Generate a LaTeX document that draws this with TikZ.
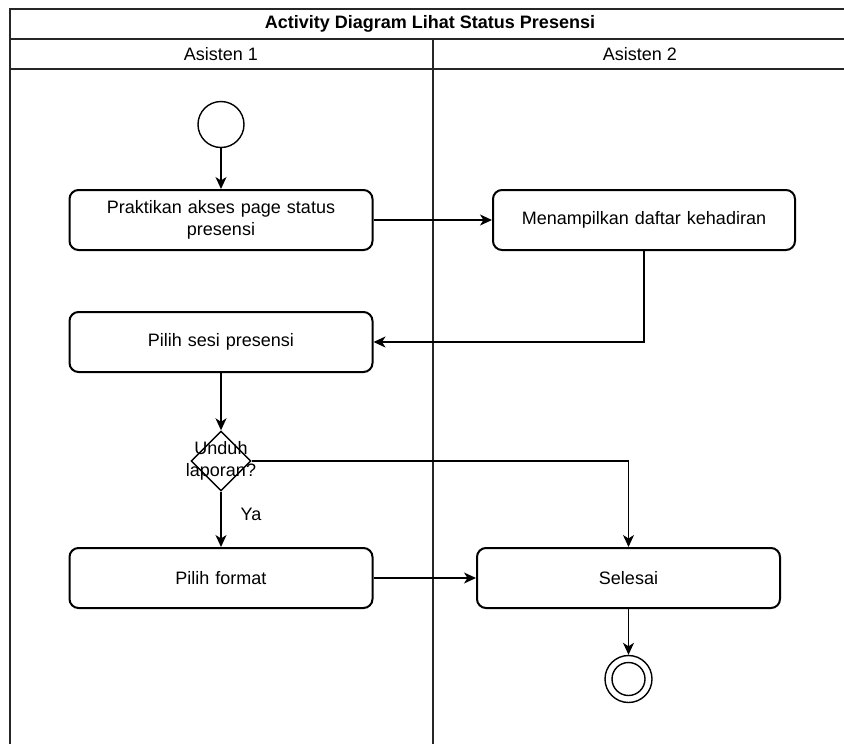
\documentclass[tikz,border=0pt]{standalone}
\usepackage{fontspec}
\setmainfont{Liberation Sans}
\usetikzlibrary{arrows.meta,shapes.geometric}
\begin{document}
\begin{tikzpicture}[x=1pt,y=-1pt,
  every node/.style={font=\fontsize{18}{22}\selectfont, align=center, inner sep=0pt},
  lane/.style={line width=2pt, draw=black!85},
  action/.style={draw, line width=2pt, rounded corners=9pt, minimum width=303pt, minimum height=60pt, text width=290pt},
  flow/.style={line width=1.5pt, -{Stealth[length=12pt,width=11pt,inset=3.5pt]}},
  startnode/.style={circle, draw, line width=1.4pt, minimum size=46pt},
  decision/.style={diamond, draw, line width=1.4pt, minimum width=60pt, minimum height=60pt, aspect=1}
]
\useasboundingbox (0,0) rectangle (844,744);
\fill[white] (0,0) rectangle (844,744);
\clip (0,0) rectangle (844,744);

% swimlane frame
\draw[lane] (9.5,9) rectangle (860,760);
\draw[lane] (9.5,39) -- (860,39);
\draw[lane] (9.5,69) -- (860,69);
\draw[lane] (432.5,39) -- (432.5,760);
\node[font=\fontsize{18}{22}\selectfont\bfseries] (title) at (430,24) {Activity Diagram Lihat Status Presensi};
\node (laneA) at (221,54) {Asisten 1};
\node (laneB) at (640,54) {Asisten 2};

% activity nodes
\node[startnode] (start) at (221,124.5) {};
\node[action] (akses) at (221,220) {Praktikan akses page status\\presensi};
\node[action, minimum width=302pt] (tampil) at (644,220) {Menampilkan daftar kehadiran};
\node[action] (sesi) at (221,342) {Pilih sesi presensi};
\node[decision] (unduh) at (221,461) {};
\node (unduhtext) at (221,461) {Unduh\\laporan?};
\node[action] (format) at (221,578) {Pilih format};
\node[action] (selesai) at (628.5,578) {Selesai};
\node[circle, draw, line width=1.4pt, minimum size=47pt] (end) at (628.5,679) {};
\node[circle, draw, line width=1.4pt, minimum size=33pt] (endin) at (628.5,679) {};
\node (ya) at (251,514) {Ya};

% connectors
\draw[flow] (start) -- (akses);
\draw[flow] (akses) -- (tampil);
\draw[flow] (tampil.south) |- (sesi.east);
\draw[flow] (sesi) -- (unduh);
\draw[flow] (unduh.east) -| (selesai.north);
\draw[flow] (unduh.south) -- (format.north);
\draw[flow] (format) -- (selesai);
\draw[flow] (selesai) -- (end);
\end{tikzpicture}
\end{document}
